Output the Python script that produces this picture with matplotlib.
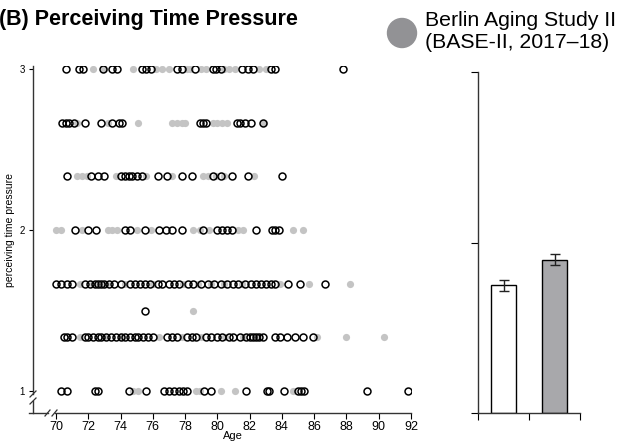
import matplotlib
matplotlib.use("Agg")
import matplotlib.pyplot as plt
from matplotlib.lines import Line2D
from matplotlib.patches import Ellipse

plt.rcParams['font.family'] = ['Liberation Sans', 'DejaVu Sans']

# perceived time pressure levels (y) and ages (x) per study
levels = [3.0, 2.667, 2.333, 2.0, 1.667, 1.5, 1.333, 1.0]

open_ages = [
	[70.6, 71.4, 71.7, 72.9, 73.5, 73.8, 75.3, 75.6, 75.9, 77.5, 77.8, 78.6, 79.7, 79.9, 80.2, 81.5, 81.9, 82.2, 83.3, 83.6, 87.8],
	[70.4, 70.6, 70.8, 71.1, 71.8, 72.8, 73.5, 73.9, 74.1, 78.9, 79.1, 79.3, 81.2, 81.4, 81.7, 82.1, 82.8],
	[70.7, 72.2, 72.6, 73.0, 74.0, 74.3, 74.5, 74.7, 75.0, 75.3, 76.3, 76.9, 77.8, 78.4, 79.7, 80.2, 80.9, 81.9, 84.0],
	[71.2, 72.0, 72.5, 74.3, 74.6, 75.5, 76.4, 76.8, 77.2, 77.8, 79.1, 80.0, 80.3, 80.6, 80.9, 82.4, 83.4, 83.6, 83.8],
	[70.0, 70.3, 70.7, 71.0, 71.8, 72.1, 72.4, 72.6, 72.8, 73.0, 73.3, 73.6, 74.0, 74.6, 74.9, 75.2, 75.5, 75.8,
	 76.3, 76.6, 77.0, 77.3, 77.6, 78.2, 78.5, 79.0, 79.4, 79.8, 80.2, 80.6, 81.0, 81.3, 81.7, 82.1, 82.4, 82.7,
	 83.0, 83.3, 83.6, 84.4, 85.1, 86.7],
	[75.5],
	[70.5, 70.7, 71.0, 71.8, 72.0, 72.3, 72.6, 72.8, 73.1, 73.4, 73.7, 74.0, 74.3, 74.6, 74.9, 75.1, 75.4, 75.7,
	 76.0, 76.9, 77.2, 77.5, 78.1, 78.4, 78.7, 79.3, 79.6, 80.0, 80.3, 80.7, 81.0, 81.4, 81.8, 82.0, 82.2, 82.4,
	 82.6, 82.8, 83.6, 83.9, 84.3, 84.8, 85.3, 85.9],
	[70.3, 70.7, 72.4, 72.6, 74.5, 75.6, 76.7, 77.0, 77.3, 77.6, 77.9, 78.1, 79.2, 79.6, 81.8, 83.1, 83.2, 84.1, 85.0, 85.2, 85.4, 89.3, 91.8],
]

gray_ages = [
	[72.3, 73.0, 74.8, 76.2, 76.6, 77.0, 78.1, 78.3, 79.0, 79.3, 80.4, 80.7, 81.1, 82.6, 83.0],
	[71.3, 73.2, 75.1, 77.2, 77.5, 77.8, 78.0, 79.7, 80.0, 80.3, 80.6, 82.9],
	[71.3, 71.6, 71.9, 73.7, 75.6, 77.2, 79.1, 79.4, 79.9, 80.4, 82.3],
	[70.0, 70.3, 71.6, 73.2, 73.5, 73.8, 75.0, 75.9, 78.5, 78.9, 79.5, 81.3, 81.6, 84.7, 85.3],
	[71.5, 72.3, 73.1, 74.3, 76.0, 77.9, 78.8, 79.6, 80.4, 81.5, 83.9, 85.7, 88.2],
	[78.5],
	[71.5, 73.0, 74.1, 76.4, 77.8, 79.0, 80.5, 81.6, 82.5, 86.2, 88.0, 90.3],
	[74.8, 75.1, 78.7, 78.9, 80.2, 81.1, 84.7],
]

# bar panel: BASE-I (white) vs BASE-II (gray)
bar_pos = [0.5, 1.5]
bar_means = [0.75, 0.90]
bar_err = [0.032, 0.032]
bar_colors = ['white', '#a8a8ab']

W, H = 622, 442
fig = plt.figure(figsize=(W/100, H/100), dpi=100)

# scatter panel, placed in pixel terms of the reference
L, R, B, T = 33, 411, 413, 66
ax = fig.add_axes([L/W, 1-B/H, (R-L)/W, (B-T)/H])
for lev, ages in zip(levels, gray_ages):
	ax.plot(ages, [lev]*len(ages), 'o', ms=5.2, mfc='#c4c4c4', mec='none', zorder=2)
for lev, ages in zip(levels, open_ages):
	ax.plot(ages, [lev]*len(ages), 'o', ms=5, mfc='none', mec='black', mew=1.1, zorder=3)

ax.set_xlim(70 - 23/16.14, 92)
ax.set_ylim(1 - 22/161, 3 + 3/161)
ax.set_xticks(range(70, 93, 2))
ax.set_yticks([1, 2, 3])
ax.tick_params(axis='x', labelsize=9, length=4, width=0.8, pad=2)
ax.tick_params(axis='y', labelsize=7, length=3, width=0.8, pad=3)
ax.set_xlabel('Age', fontsize=8)
ax.xaxis.set_label_coords((233-L)/(R-L), (B-436)/(B-T))
ax.xaxis.label.set_va('center')
ax.set_ylabel('perceiving time pressure', fontsize=7.5)
ax.yaxis.set_label_coords((10-L)/(R-L), (B-230)/(B-T))
ax.yaxis.label.set_va('center')
for s in ax.spines.values():
	s.set_visible(False)

def fr(px, py):
	return (px-L)/(R-L), (B-py)/(B-T)

def seg(p0, p1, lw=1.0):
	(x0, y0), (x1, y1) = fr(*p0), fr(*p1)
	ax.add_line(Line2D([x0, x1], [y0, y1], transform=ax.transAxes, color='#333333', lw=lw, clip_on=False))

# spines with axis breaks
seg((33, T), (33, 394))
seg((33, 401), (33, B))
seg((29, B), (48, B))
seg((55, B), (R, B))
seg((30, 397), (36, 391), 0.9)
seg((30, 404), (36, 398), 0.9)
seg((45, 416), (50, 410), 0.9)
seg((52, 416), (57, 410), 0.9)

# bar panel
bx = fig.add_axes([478/W, 1-413/H, 102/W, (413-72)/H])
bx.bar(bar_pos, bar_means, width=0.5, color=bar_colors, edgecolor='black', linewidth=1.0,
	yerr=bar_err, error_kw=dict(ecolor='#222222', elinewidth=1.0, capsize=3.5, capthick=1.0))
bx.set_xlim(0, 2)
bx.set_ylim(0, 2)
bx.set_xticks([0, 1, 2])
bx.set_yticks([0, 1, 2])
bx.set_xticklabels([])
bx.set_yticklabels([])
bx.tick_params(length=5, width=0.8)
bx.spines['top'].set_visible(False)
bx.spines['right'].set_visible(False)
for s in ['left', 'bottom']:
	bx.spines[s].set_linewidth(1.0)
	bx.spines[s].set_color('#333333')

# title and legend
fig.text(-0.002, 1-20/H, '(B) Perceiving Time Pressure', fontsize=15.5, fontweight='bold', va='center', ha='left')
fig.add_artist(Ellipse((402/W, 1-33/H), 29/W, 29/H, transform=fig.transFigure, color='#929295'))
fig.text(425/W, 1-32/H, 'Berlin Aging Study II\n(BASE-II, 2017\u201318)', fontsize=15.3, va='center', ha='left', linespacing=1.2)

fig.savefig('out.png', dpi=100)
